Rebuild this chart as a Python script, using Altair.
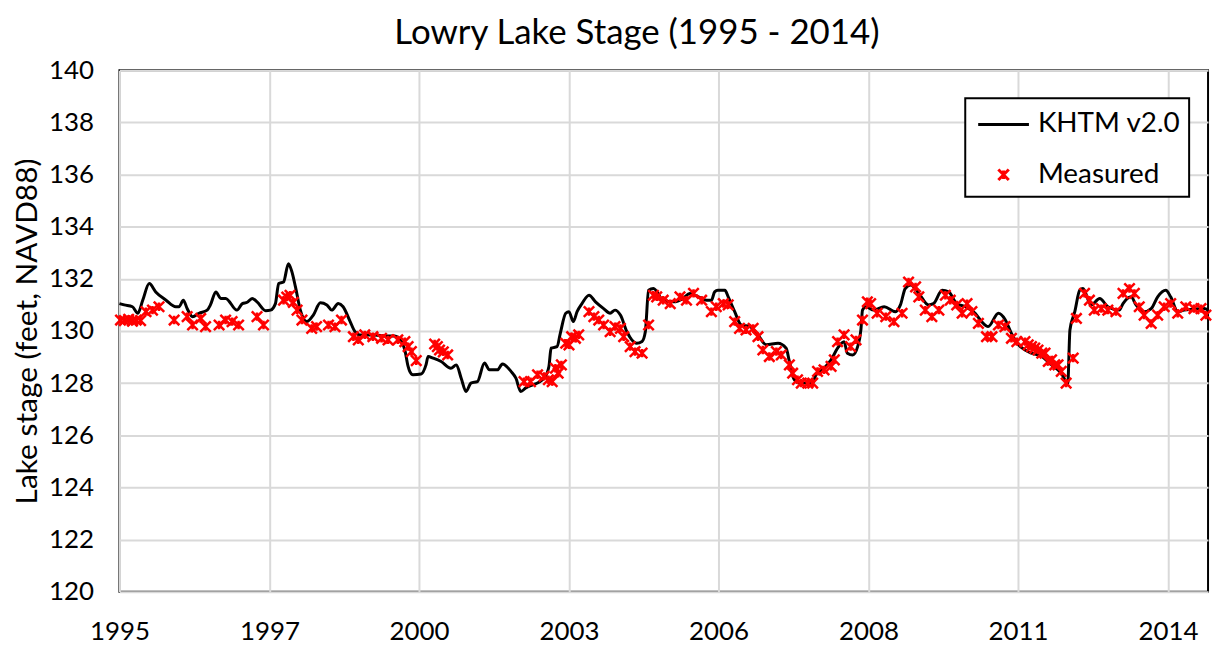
import altair as alt
import pandas as pd

# ---- data ----
model_year = [1995.00, 1995.09, 1995.24, 1995.34, 1995.43, 1995.55, 1995.67, 1995.86, 1996.04, 1996.10,
              1996.18, 1996.25, 1996.35, 1996.47, 1996.62, 1996.68, 1996.78, 1996.87, 1996.96, 1997.17,
              1997.27, 1997.36, 1997.45, 1997.54, 1997.70, 1997.79, 1997.88, 1997.94, 1998.03, 1998.12,
              1998.18, 1998.25, 1998.34, 1998.46, 1998.58, 1998.71, 1998.83, 1998.92, 1999.04, 1999.13,
              1999.26, 1999.35, 1999.44, 1999.70, 1999.96, 2000.08, 2000.21, 2000.27, 2000.33, 2000.36,
              2000.42, 2000.57, 2000.66, 2000.70, 2000.79, 2000.94, 2001.12, 2001.22, 2001.31, 2001.40,
              2001.49, 2001.61, 2001.74, 2001.83, 2001.98, 2002.07, 2002.23, 2002.32, 2002.41, 2002.50,
              2002.84, 2002.93, 2002.97, 2003.08, 2003.14, 2003.24, 2003.30, 2003.38, 2003.45, 2003.54,
              2003.67, 2003.79, 2003.94, 2004.06, 2004.15, 2004.25, 2004.37, 2004.46, 2004.55, 2004.65,
              2004.71, 2004.77, 2004.86, 2005.04, 2005.23, 2005.41, 2005.53, 2005.69, 2005.84, 2005.93,
              2005.99, 2006.05, 2006.18, 2006.24, 2006.36, 2006.48, 2006.64, 2006.79, 2006.94, 2007.16,
              2007.31, 2007.37, 2007.46, 2007.55, 2007.80, 2007.86, 2008.01, 2008.14, 2008.26, 2008.38,
              2008.44, 2008.54, 2008.63, 2008.69, 2008.72, 2008.78, 2008.93, 2009.12, 2009.33, 2009.42,
              2009.51, 2009.61, 2009.76, 2009.94, 2010.03, 2010.19, 2010.31, 2010.46, 2010.62, 2010.80,
              2010.92, 2011.04, 2011.23, 2011.35, 2011.47, 2011.60, 2011.72, 2011.84, 2012.03, 2012.21,
              2012.39, 2012.51, 2012.55, 2012.64, 2012.73, 2012.79, 2012.94, 2013.10, 2013.25, 2013.46,
              2013.53, 2013.68, 2013.77, 2013.92, 2014.05, 2014.17, 2014.32, 2014.41, 2014.54, 2014.66,
              2015.03, 2015.10]
model_stage = [131.05, 131.00, 130.93, 130.68, 131.18, 131.82, 131.50, 131.18, 130.93, 130.93,
               131.18, 130.86, 130.55, 130.68, 130.80, 131.00, 131.50, 131.25, 131.25, 130.80,
               131.05, 131.10, 131.25, 131.12, 130.78, 130.80, 131.05, 131.82, 131.88, 132.58,
               132.30, 131.69, 130.80, 130.36, 130.61, 131.08, 131.00, 130.80, 131.05, 130.93,
               130.36, 129.97, 129.85, 129.85, 129.81, 129.81, 129.59, 129.27, 128.64, 128.45,
               128.32, 128.35, 128.70, 129.02, 128.96, 128.83, 128.57, 128.70, 128.19, 127.68,
               128.00, 128.06, 128.77, 128.51, 128.51, 128.73, 128.45, 128.19, 127.68, 127.81,
               128.19, 128.64, 129.34, 129.40, 129.91, 130.68, 130.74, 130.36, 130.74, 131.05,
               131.37, 131.12, 130.86, 130.68, 130.80, 130.61, 129.97, 129.66, 129.53, 129.60,
               129.97, 131.56, 131.63, 131.18, 131.12, 131.25, 131.44, 131.31, 131.18, 131.18,
               131.50, 131.56, 131.56, 131.31, 130.74, 130.23, 130.17, 129.85, 129.47, 129.53,
               129.34, 128.83, 128.13, 128.00, 128.00, 128.32, 128.57, 128.89, 129.34, 129.59,
               129.15, 129.08, 129.40, 130.04, 130.80, 130.93, 130.80, 130.93, 130.74, 131.00,
               131.63, 131.76, 131.44, 131.00, 131.05, 131.56, 131.50, 131.05, 130.93, 130.68,
               130.36, 130.17, 130.68, 130.45, 129.91, 129.47, 129.27, 129.15, 129.02, 128.70,
               128.38, 128.00, 130.04, 130.74, 131.56, 131.63, 131.00, 131.25, 130.93, 130.80,
               131.05, 131.31, 131.00, 130.74, 130.86, 131.31, 131.56, 131.31, 130.74, 130.80,
               130.86, 130.80]

meas_year = [1995.02, 1995.09, 1995.17, 1995.24, 1995.31, 1995.39, 1995.49, 1995.61, 1995.73, 1996.01,
             1996.25, 1996.35, 1996.50, 1996.59, 1996.84, 1996.96, 1997.08, 1997.20, 1997.54, 1997.66,
             1998.03, 1998.09, 1998.15, 1998.21, 1998.28, 1998.37, 1998.55, 1998.64, 1998.86, 1998.98,
             1999.10, 1999.32, 1999.41, 1999.53, 1999.68, 1999.84, 1999.96, 2000.14, 2000.27, 2000.33,
             2000.39, 2000.48, 2000.82, 2000.87, 2000.91, 2000.98, 2001.06, 2002.47, 2002.59, 2002.72,
             2002.84, 2002.92, 2002.99, 2003.05, 2003.10, 2003.16, 2003.24, 2003.30, 2003.35, 2003.42,
             2003.48, 2003.67, 2003.76, 2003.85, 2003.94, 2004.06, 2004.15, 2004.25, 2004.31, 2004.43,
             2004.52, 2004.65, 2004.77, 2004.86, 2004.92, 2005.04, 2005.17, 2005.35, 2005.47, 2005.60,
             2005.75, 2005.93, 2006.02, 2006.15, 2006.24, 2006.36, 2006.45, 2006.57, 2006.70, 2006.79,
             2006.88, 2007.00, 2007.13, 2007.22, 2007.37, 2007.43, 2007.52, 2007.59, 2007.71, 2007.80,
             2007.89, 2008.01, 2008.14, 2008.20, 2008.26, 2008.38, 2008.50, 2008.60, 2008.72, 2008.81,
             2008.87, 2008.99, 2009.15, 2009.30, 2009.45, 2009.57, 2009.70, 2009.76, 2009.88, 2010.00,
             2010.13, 2010.25, 2010.34, 2010.46, 2010.56, 2010.65, 2010.74, 2010.86, 2011.01, 2011.11,
             2011.23, 2011.35, 2011.47, 2011.57, 2011.72, 2011.78, 2011.84, 2011.90, 2011.96, 2012.03,
             2012.09, 2012.15, 2012.21, 2012.27, 2012.33, 2012.39, 2012.48, 2012.61, 2012.67, 2012.82,
             2012.91, 2013.00, 2013.13, 2013.25, 2013.40, 2013.53, 2013.65, 2013.74, 2013.83, 2013.92,
             2014.05, 2014.17, 2014.29, 2014.41, 2014.54, 2014.69, 2014.84, 2014.97, 2015.06]
meas_stage = [130.42, 130.40, 130.45, 130.38, 130.42, 130.40, 130.74, 130.80, 130.93, 130.42,
              130.55, 130.23, 130.48, 130.17, 130.23, 130.42, 130.36, 130.23, 130.55, 130.23,
              131.18, 131.30, 131.37, 131.10, 130.80, 130.42, 130.10, 130.17, 130.23, 130.17,
              130.42, 129.78, 129.66, 129.85, 129.78, 129.72, 129.66, 129.66, 129.59, 129.40,
              129.21, 128.86, 129.50, 129.40, 129.27, 129.20, 129.08, 128.06, 128.06, 128.32,
              128.26, 128.13, 128.06, 128.57, 128.38, 128.70, 129.53, 129.47, 129.78, 129.72,
              129.85, 130.74, 130.55, 130.42, 130.23, 129.97, 130.17, 130.10, 129.78, 129.40,
              129.21, 129.15, 130.23, 131.37, 131.31, 131.18, 131.05, 131.31, 131.18, 131.44,
              131.18, 130.74, 130.93, 131.05, 131.00, 130.36, 130.10, 130.04, 130.10, 129.78,
              129.27, 129.02, 129.21, 129.08, 128.70, 128.38, 128.13, 128.00, 128.00, 128.00,
              128.45, 128.51, 128.64, 128.89, 129.59, 129.85, 129.40, 129.66, 130.42, 131.12,
              131.05, 130.68, 130.55, 130.36, 130.68, 131.88, 131.69, 131.31, 130.80, 130.55,
              130.80, 131.37, 131.18, 131.00, 130.68, 131.05, 130.74, 130.29, 129.78, 129.78,
              130.23, 130.17, 129.72, 129.59, 129.59, 129.47, 129.40, 129.34, 129.27, 129.15,
              129.15, 128.83, 128.89, 128.70, 128.70, 128.45, 128.00, 128.96, 130.48, 131.44,
              131.18, 130.80, 130.86, 130.80, 130.74, 131.44, 131.63, 131.44, 130.93, 130.61,
              130.29, 130.61, 130.93, 131.05, 130.68, 130.93, 130.86, 130.86, 130.61]

x_tick_values = [1995.0, 1997.77, 2000.53, 2003.30, 2006.06, 2008.83, 2011.59, 2014.36]
y_tick_values = [120, 122, 124, 126, 128, 130, 132, 134, 136, 138, 140]
series_names = ["KHTM v2.0", "Measured"]
series_colors = ["#000000", "#ff0000"]

model_df = pd.DataFrame({"year": model_year, "stage": model_stage})
meas_df = pd.DataFrame({"year": meas_year, "stage": meas_stage, "series": ["Measured"] * len(meas_year)})

FONT = "Lato"

x_enc = alt.X(
    "year:Q",
    scale=alt.Scale(domain=[1995, 2015.1], nice=False, zero=False),
    axis=alt.Axis(values=x_tick_values, labelExpr="toString(floor(datum.value))",
                  title=None, labelPadding=27, labelFlush=False),
)
y_enc = alt.Y(
    "stage:Q",
    scale=alt.Scale(domain=[120, 140], nice=False, zero=False),
    axis=alt.Axis(values=y_tick_values, title="Lake stage (feet, NAVD88)",
                  labelPadding=26, titlePadding=6, titleFontSize=30),
)

line = alt.Chart(model_df).mark_line(
    color="black", strokeWidth=3, interpolate="monotone"
).encode(x=x_enc, y=y_enc)

X_PATH = "M-1,-1L1,1M-1,1L1,-1M0,-0.8L0,0.8"
LINE_PATH = "M-1.5,0L1.5,0"

leg = alt.Legend(title=None, orient="none", legendX=850, legendY=28)

points = alt.Chart(meas_df).mark_point(filled=False, strokeWidth=2.5, opacity=1).encode(
    x=x_enc,
    y=y_enc,
    color=alt.Color("series:N", scale=alt.Scale(domain=series_names, range=series_colors), legend=leg),
    shape=alt.Shape("series:N", scale=alt.Scale(domain=series_names, range=[LINE_PATH, X_PATH]), legend=leg),
    size=alt.Size("series:N", scale=alt.Scale(domain=series_names, range=[1156, 110]), legend=leg),
)

chart = alt.layer(line, points).properties(
    width=1094,
    height=524,
    title=alt.Title("Lowry Lake Stage (1995 - 2014)", font=FONT, fontSize=35, fontWeight="normal",
                    color="black", anchor="middle", dx=-27, offset=6),
    autosize=alt.AutoSizeParams(type="none"),
    padding={"left": 112, "top": 61, "right": 8, "bottom": 55},
).configure_view(
    stroke="black", strokeWidth=2
).configure_axis(
    labelFont=FONT, labelFontSize=26, labelColor="black",
    titleFont=FONT, titleFontSize=26, titleFontWeight="normal", titleColor="black",
    grid=True, gridColor="#d9d9d9", gridWidth=2,
    ticks=False, tickSize=0, domain=False,
).configure_legend(
    labelFont=FONT, labelFontSize=28, labelColor="black", labelOffset=16,
    strokeColor="black", fillColor="white", strokeWidth=2,
    padding=8, symbolOffset=12, rowPadding=22,
    symbolStrokeWidth=3, symbolFillColor="transparent",
)

chart.save("out.html", embed_options={"renderer": "svg", "actions": False})
